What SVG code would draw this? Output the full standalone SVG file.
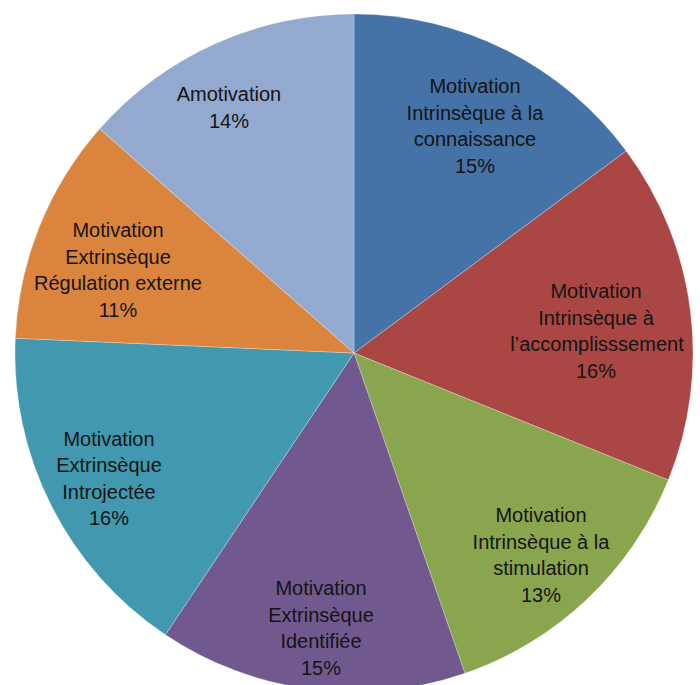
<svg xmlns="http://www.w3.org/2000/svg" width="700" height="685" viewBox="0 0 700 685">
<style>
.s{stroke:#ffffff;stroke-opacity:0.35;stroke-width:0.8;stroke-linejoin:round}
.t{font-family:"Liberation Sans",Arial,sans-serif;font-size:20px;fill:#141414;text-anchor:middle}
</style>
<rect width="700" height="685" fill="#ffffff"/>
<g id="slice-connaissance">
<path class="s" fill="#4572A7" d="M354,353 L354,14 A339,339 0 0,1 626.2,150.9 Z"/>
<text class="t"><tspan x="475" y="93">Motivation</tspan><tspan x="475" y="119.5">Intrinsèque à la</tspan><tspan x="475" y="146">connaissance</tspan><tspan x="475" y="172.5">15%</tspan></text>
</g>
<g id="slice-accomplissement">
<path class="s" fill="#AA4643" d="M354,353 L626.2,150.9 A339,339 0 0,1 668.3,480 Z"/>
<text class="t"><tspan x="596" y="298">Motivation</tspan><tspan x="596" y="324.5">Intrinsèque à</tspan><tspan x="597" y="351">l’accomplisssement</tspan><tspan x="596" y="377.5">16%</tspan></text>
</g>
<g id="slice-stimulation">
<path class="s" fill="#89A54E" d="M354,353 L668.3,480 A339,339 0 0,1 464.9,673.3 Z"/>
<text class="t"><tspan x="541" y="522">Motivation</tspan><tspan x="541" y="548.5">Intrinsèque à la</tspan><tspan x="541" y="575">stimulation</tspan><tspan x="541" y="601.5">13%</tspan></text>
</g>
<g id="slice-identifiee">
<path class="s" fill="#71588F" d="M354,353 L464.9,673.3 A339,339 0 0,1 165.4,634.7 Z"/>
<text class="t"><tspan x="321" y="595">Motivation</tspan><tspan x="321" y="621.5">Extrinsèque</tspan><tspan x="321" y="648">Identifiée</tspan><tspan x="321" y="674.5">15%</tspan></text>
</g>
<g id="slice-introjectee">
<path class="s" fill="#4198AF" d="M354,353 L165.4,634.7 A339,339 0 0,1 15.3,338.2 Z"/>
<text class="t"><tspan x="109" y="445.5">Motivation</tspan><tspan x="109" y="472">Extrinsèque</tspan><tspan x="109" y="498.5">Introjectée</tspan><tspan x="109" y="525">16%</tspan></text>
</g>
<g id="slice-regulation">
<path class="s" fill="#DB843D" d="M354,353 L15.3,338.2 A339,339 0 0,1 99.7,128.8 Z"/>
<text class="t"><tspan x="118" y="237">Motivation</tspan><tspan x="118" y="263.5">Extrinsèque</tspan><tspan x="118" y="290">Régulation externe</tspan><tspan x="118" y="316.5">11%</tspan></text>
</g>
<g id="slice-amotivation">
<path class="s" fill="#93A9CF" d="M354,353 L99.7,128.8 A339,339 0 0,1 354,14 Z"/>
<text class="t"><tspan x="229" y="101">Amotivation</tspan><tspan x="229" y="127.5">14%</tspan></text>
</g>
<g id="connectors"/>
</svg>
